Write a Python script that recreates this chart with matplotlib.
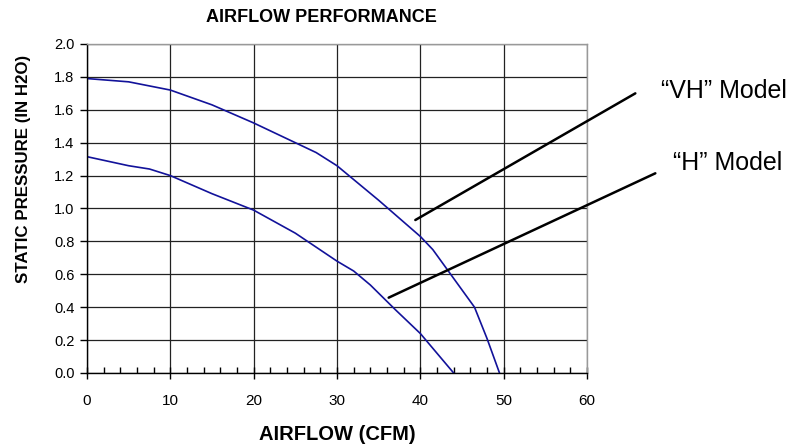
import matplotlib
matplotlib.use('Agg')
import matplotlib.pyplot as plt
from matplotlib.ticker import MultipleLocator, FormatStrFormatter

plt.rcParams['font.family'] = ['Liberation Sans', 'DejaVu Sans']

# "VH" model curve
vh_cfm = [0, 5, 10, 15, 20, 25, 27.5, 30, 35, 40, 41.5, 43.5, 46.5, 48, 49.5]
vh_pressure = [1.79, 1.77, 1.72, 1.63, 1.52, 1.40, 1.34, 1.26, 1.05, 0.83, 0.75, 0.61, 0.40, 0.21, 0.0]

# "H" model curve
h_cfm = [0, 5, 7.5, 10, 15, 20, 25, 30, 32, 34, 37, 40, 41, 44]
h_pressure = [1.315, 1.26, 1.24, 1.20, 1.09, 0.99, 0.85, 0.68, 0.62, 0.535, 0.385, 0.24, 0.18, 0.0]

# callout labels: (text, point on curve side, text end of leader line)
callouts = [
    ('\u201cVH\u201d Model', (39.4, 0.93), (65.8, 1.70)),
    ('\u201cH\u201d Model', (36.2, 0.458), (68.2, 1.214)),
]

W, H = 794, 445
fig = plt.figure(figsize=(W / 100, H / 100), dpi=100)
ax = fig.add_axes([87 / W, 1 - 373 / H, 500 / W, 329 / H])

line_color = '#12129a'
ax.plot(vh_cfm, vh_pressure, color=line_color, lw=1.2)
ax.plot(h_cfm, h_pressure, color=line_color, lw=1.2)

ax.set_xlim(0, 60)
ax.set_ylim(0, 2.0)
ax.xaxis.set_major_locator(MultipleLocator(10))
ax.xaxis.set_minor_locator(MultipleLocator(2))
ax.yaxis.set_major_locator(MultipleLocator(0.2))
ax.yaxis.set_major_formatter(FormatStrFormatter('%.1f'))

ax.grid(True, which='major', color='#222222', lw=0.9)
ax.set_axisbelow(True)

for s in ['top', 'right']:
    ax.spines[s].set_color('#999999')
    ax.spines[s].set_linewidth(1.0)
for s in ['left', 'bottom']:
    ax.spines[s].set_color('black')
    ax.spines[s].set_linewidth(1.0)

ax.tick_params(axis='x', which='major', direction='inout', length=8, width=1, pad=11, labelsize=11)
ax.tick_params(axis='x', which='minor', direction='in', length=4, width=1)
ax.tick_params(axis='y', which='major', direction='out', length=5, width=1, pad=4, labelsize=10.5)

for txt, p0, p1 in callouts:
    ax.annotate('', xy=p0, xytext=p1, xycoords='data', textcoords='data',
                arrowprops=dict(arrowstyle='-', color='black', lw=1.8,
                                shrinkA=0, shrinkB=0),
                annotation_clip=False)

fig.text(661 / W, 1 - 90.5 / H, callouts[0][0], fontsize=18, ha='left', va='center')
fig.text(673 / W, 1 - 163.5 / H, callouts[1][0], fontsize=18, ha='left', va='center')

fig.text(321 / W, 1 - 17 / H, 'AIRFLOW PERFORMANCE', fontsize=13, fontweight='bold',
         ha='center', va='center')
fig.text(337 / W, 1 - 434 / H, 'AIRFLOW (CFM)', fontsize=14.5, fontweight='bold',
         ha='center', va='center')
fig.text(24 / W, 1 - 168.5 / H, 'STATIC PRESSURE (IN H2O)', fontsize=12.2, fontweight='bold',
         ha='center', va='center', rotation=90)

fig.savefig('out.png', dpi=100)
